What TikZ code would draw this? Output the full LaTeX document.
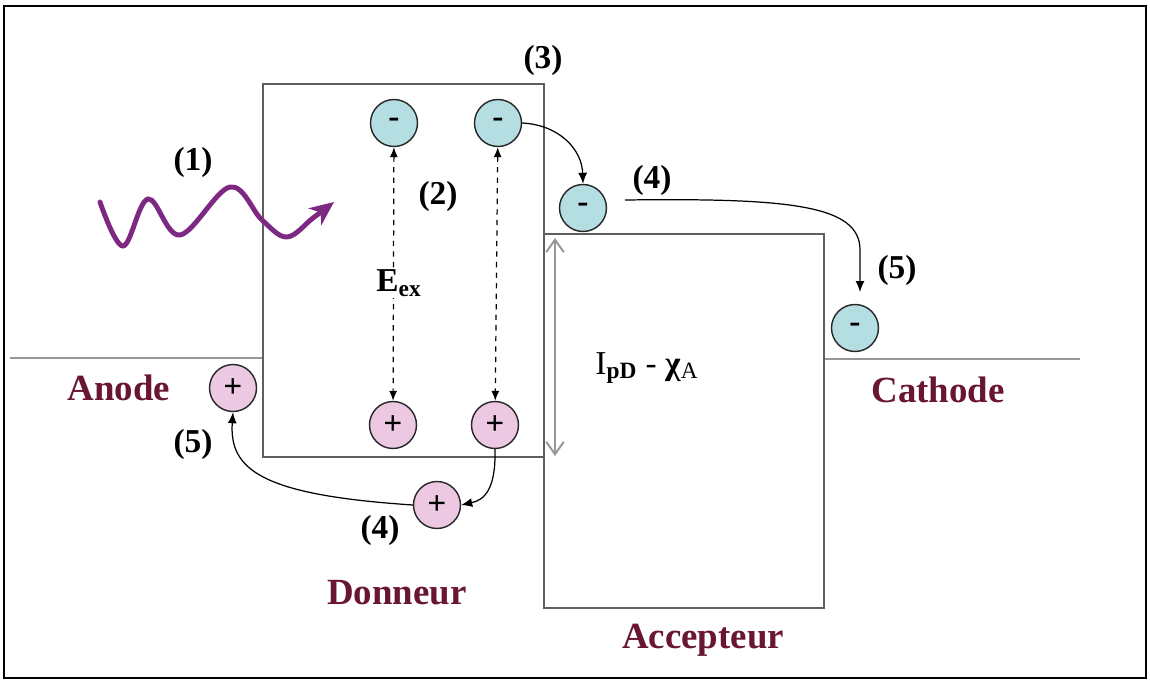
\documentclass[tikz,border=0pt]{standalone}
\usepackage{fontspec}
\setmainfont{Liberation Serif}
\usetikzlibrary{arrows.meta}
\definecolor{labelred}{RGB}{105,22,48}
\definecolor{eblue}{RGB}{180,222,226}
\definecolor{hpink}{RGB}{236,200,226}
\definecolor{wavepurple}{RGB}{125,40,130}
\definecolor{boxgray}{RGB}{95,95,95}
\definecolor{lightgray}{RGB}{150,150,150}
\tikzset{
  carrier/.style={circle, draw=black!85, line width=0.8pt, minimum size=0.94cm, inner sep=0pt, font=\fontsize{19}{19}\selectfont\bfseries},
  electron/.style={carrier, fill=eblue},
  hole/.style={carrier, fill=hpink},
  region/.style={draw=boxgray, line width=1.1pt},
  level/.style={draw=lightgray, line width=1.1pt},
  material/.style={text=labelred, font=\fontsize{21}{21}\selectfont\bfseries},
  stage/.style={font=\fontsize{19}{19}\selectfont\bfseries},
  transfer/.style={draw=black, line width=0.7pt, -{Latex[length=2.2mm,width=1.8mm]}},
  exciton/.style={draw=black, line width=0.7pt, dashed, {Latex[length=2mm,width=1.6mm]}-{Latex[length=2mm,width=1.6mm]}}
}
\begin{document}
\begin{tikzpicture}[x=0.02cm, y=-0.02cm]
\useasboundingbox (0,0) rectangle (1150,682);
\fill[white] (0,0) rectangle (1150,682);
% outer frame
\draw[black, line width=1.3pt] (4,6) rectangle (1146,678);

% electrode levels
\draw[level] (10,358) -- (263,358);
\draw[level] (824,359) -- (1080,359);

% donor and acceptor bands
\draw[region] (263,84) rectangle (544,457);
\draw[region] (544,234) rectangle (824,608);

% incoming photon
\draw[wavepurple, line width=2.8pt, line cap=round, -{Stealth[length=4.8mm,width=4.2mm,inset=1.4mm]}]
  plot[smooth, tension=0.6] coordinates {(100,202) (123,246) (148,199) (180,235) (230,187) (262,220) (287,237) (313,218) (334,202)};

% charge carriers
\node[electron] (e1) at (394,123) {-};
\node[electron] (e2) at (498,123) {-};
\node[electron] (e3) at (583,208) {-};
\node[electron] (e4) at (855,328) {-};
\node[hole] (h0) at (233,388) {+};
\node[hole] (h1) at (393,425) {+};
\node[hole] (h2) at (495,425) {+};
\node[hole] (h3) at (437,505) {+};

% exciton binding
\draw[exciton] (e1) -- (h1);
\draw[exciton] (e2) -- (h2);
\node[stage, fill=white, inner sep=1pt] (eex) at (399,283) {E\textsubscript{ex}};

% charge transfer paths
\coordinate (eout) at (625,200);
\coordinate (eland) at (860,292);
\draw[transfer] (e2.east) .. controls (560,125) and (582,150) .. (e3.north);
\draw[transfer] (eout) .. controls (790,198) and (860,205) .. (860,250) -- (eland);
\draw[transfer] (h2.south) .. controls (496,490) and (484,500) .. (h3.east);
\draw[transfer] (h3.west) .. controls (262,495) and (229,470) .. (h0.south);

% energy gap
\draw[draw=lightgray, line width=1.1pt, {Straight Barb[length=2.5mm,width=3.5mm]}-{Straight Barb[length=2.5mm,width=3.5mm]}] (555,238) -- (555,456);
\node[font=\fontsize{19}{19}\selectfont] (gap) at (647,368) {I\textsubscript{\bfseries pD} - \textbf{χ}\textsubscript{A}};

% step numbers
\node[stage] (s1) at (193,162) {(1)};
\node[stage] (s2) at (438,196) {(2)};
\node[stage] (s3) at (543,60) {(3)};
\node[stage] (s4a) at (652,180) {(4)};
\node[stage] (s4b) at (380,530) {(4)};
\node[stage] (s5a) at (897,270) {(5)};
\node[stage] (s5b) at (193,444) {(5)};

% material labels
\node[material] (anode) at (119,388) {Anode};
\node[material] (cathode) at (938,390) {Cathode};
\node[material] (donor) at (397,593) {Donneur};
\node[material] (acceptor) at (703,640) {Accepteur};
\end{tikzpicture}
\end{document}
